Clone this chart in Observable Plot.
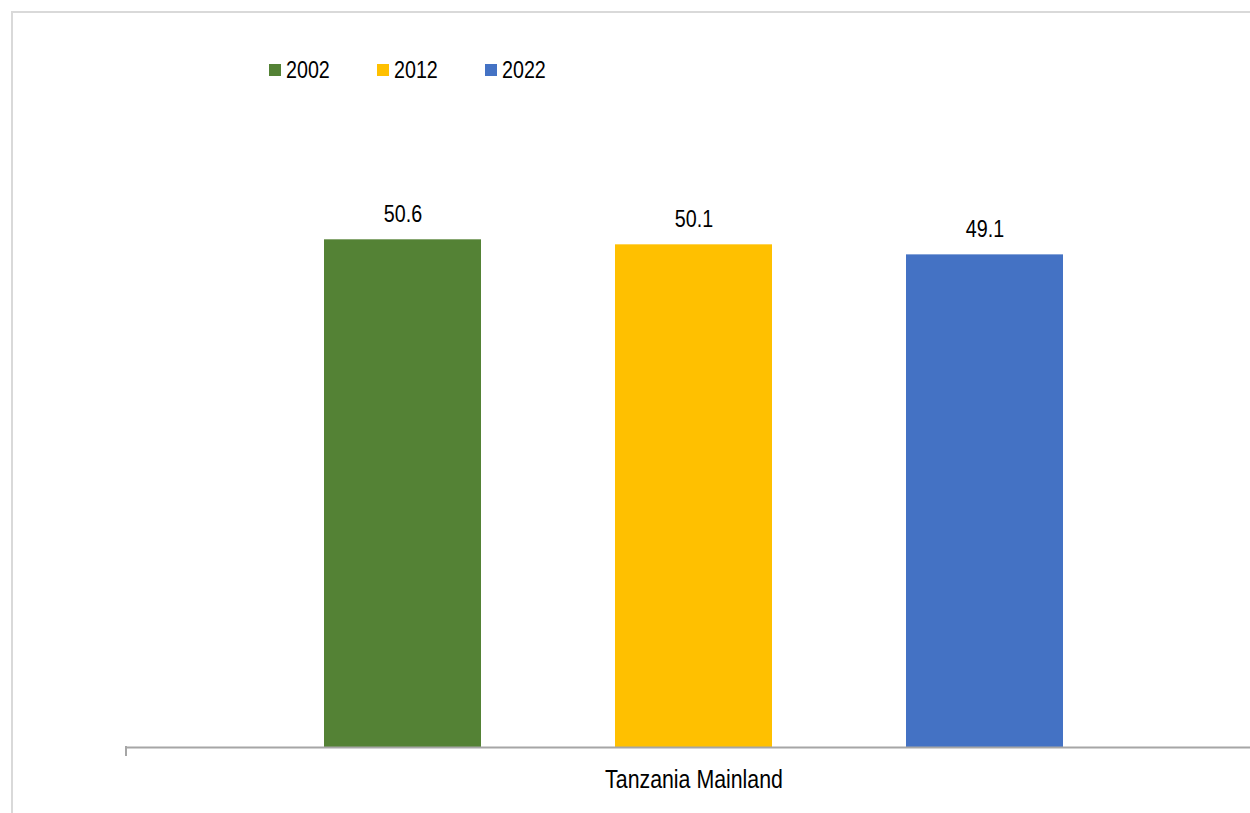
<!DOCTYPE html>
<html>
<head>
<meta charset="utf-8">
<script src="https://cdn.jsdelivr.net/npm/d3@7"></script>
<script src="https://cdn.jsdelivr.net/npm/@observablehq/plot@0.6"></script>
<style>
  html, body { margin: 0; padding: 0; background: #fff; }
  #chart { position: relative; width: 1250px; height: 813px; overflow: hidden; background: #fff;
    font-family: "Liberation Sans", Arial, sans-serif; }
  #border { position: absolute; left: 11px; top: 11px; width: 1400px; height: 1000px;
    border: 2px solid #d9d9d9; pointer-events: none; box-sizing: border-box; }
  #legend { height: 100px; box-sizing: border-box; padding-top: 58px; padding-left: 269px;
    display: flex; align-items: flex-start; }
  #legend .item { display: flex; align-items: center; }
  #legend .sw { width: 12px; height: 12px; margin-right: 5px; flex: none; }
  #legend .lab { display: inline-block; font-size: 24px; color: #000; line-height: 24px;
    transform: scaleX(0.82); transform-origin: left center; }
  svg { display: block; }
</style>
</head>
<body>
<div id="chart">
  <div id="legend"></div>
  <div id="plot"></div>
  <div id="border"></div>
</div>
<script>
const category = "Tanzania Mainland";
const years = ["2002", "2012", "2022"];
const values = [50.6, 50.1, 49.1];
const colors = ["#548235", "#FFC000", "#4472C4"];

const data = years.map((y, i) => ({year: y, value: values[i], category}));

// legend
const legend = document.getElementById("legend");
years.forEach((y, i) => {
  const it = document.createElement("div");
  it.className = "item";
  it.style.width = "108px";
  const sw = document.createElement("div");
  sw.className = "sw";
  sw.style.background = colors[i];
  const lab = document.createElement("div");
  lab.className = "lab";
  lab.textContent = y;
  it.appendChild(sw);
  it.appendChild(lab);
  legend.appendChild(it);
});

const plot = Plot.plot({
  width: 1250,
  height: 713,
  marginLeft: 126,
  marginRight: 0,
  marginTop: 45,
  marginBottom: 66,
  style: {fontFamily: '"Liberation Sans", Arial, sans-serif', background: "transparent", overflow: "visible"},
  x: {domain: years, range: [126, 1261], paddingInner: 0.459, paddingOuter: 0.673, axis: null},
  y: {domain: [0, 60], axis: null},
  color: {domain: years, range: colors},
  marks: [
    Plot.barY(data, {x: "year", y: "value", fill: "year"}),
    Plot.ruleY([0], {stroke: "#a6a6a6", strokeWidth: 2}),
    Plot.text(data, {x: "year", y: "value", text: d => d.value.toFixed(1),
      lineAnchor: "top", dy: -35, fontSize: 24, fill: "#000"}),
    Plot.text([category], {x: () => years[1], frameAnchor: "bottom", text: d => d,
      lineAnchor: "top", dy: 22, fontSize: 26, fill: "#000"})
  ]
});

// category boundary tick at left edge of the category axis
const xs = plot.scale("x");
const ys = plot.scale("y");
const y0 = ys.apply(0);
const ns = "http://www.w3.org/2000/svg";
const tick = document.createElementNS(ns, "line");
tick.setAttribute("x1", xs.range[0]);
tick.setAttribute("x2", xs.range[0]);
tick.setAttribute("y1", y0 - 1);
tick.setAttribute("y2", y0 + 9);
tick.setAttribute("stroke", "#a6a6a6");
tick.setAttribute("stroke-width", 2);
plot.appendChild(tick);

document.getElementById("plot").appendChild(plot);

// condense text to mimic a narrow sans face
plot.querySelectorAll("text").forEach(t => {
  const w = t.getComputedTextLength();
  if (w > 0) {
    t.setAttribute("textLength", (w * 0.82).toFixed(2));
    t.setAttribute("lengthAdjust", "spacingAndGlyphs");
  }
});
</script>
</body>
</html>
